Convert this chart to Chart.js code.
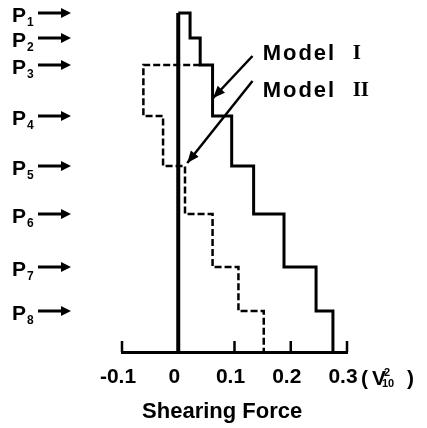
<!DOCTYPE html>
<html lang="en">
<head>
    <meta charset="UTF-8">
    <title>Shearing Force</title>
    <script src="https://cdn.jsdelivr.net/npm/chart.js"></script>
    <style>
        body { margin: 0; background: #fff; }
        #wrap { width: 427px; height: 428px; }
    </style>
</head>
<body>
    <div id="wrap"><canvas id="shearChart"></canvas></div>

    <script>
        const floors = ['1', '2', '3', '4', '5', '6', '7', '8'];
        const floorLevels = [0, 25, 52, 103, 153, 201, 254, 298];
        const baseLevel = 339;

        // storey shearing force (V10^2), from each floor down to the next one
        const model1Force = [0.021, 0.039, 0.061, 0.095, 0.134, 0.188, 0.245, 0.275];
        const model2Top = 0.039;   // dashed line starts at P3
        const model2Force = [-0.062, -0.027, 0.012, 0.061, 0.107, 0.152];

        const xTicks = [-0.1, 0, 0.1, 0.2, 0.3];

        // labels with pointer arrows: text anchor, arrow start, arrow tip (data units)
        const notes = [
            { text: 'Model', num: 'I', at: [0.150, 41], from: [0.132, 43], to: [0.062, 85] },
            { text: 'Model', num: 'II', at: [0.150, 78], from: [0.132, 68], to: [0.016, 150] }
        ];

        const FONT = '"Liberation Sans", Arial, sans-serif';

        function steps(levels, forces, startX) {
            const pts = [{ x: startX, y: levels[0] }];
            forces.forEach((f, i) => {
                const next = i + 1 < levels.length ? levels[i + 1] : baseLevel;
                pts.push({ x: f, y: levels[i] }, { x: f, y: next });
            });
            return pts;
        }

        function arrowHead(ctx, x1, y1, x2, y2, len, half) {
            const a = Math.atan2(y2 - y1, x2 - x1);
            const bx = x2 - len * Math.cos(a), by = y2 - len * Math.sin(a);
            ctx.beginPath();
            ctx.moveTo(x2, y2);
            ctx.lineTo(bx + half * Math.sin(a), by - half * Math.cos(a));
            ctx.lineTo(bx - half * Math.sin(a), by + half * Math.cos(a));
            ctx.closePath();
            ctx.fill();
        }

        const decorPlugin = {
            id: 'decor',
            afterDraw(chart) {
                const ctx = chart.ctx;
                const xs = chart.scales.x, ys = chart.scales.y;
                const bottom = chart.chartArea.bottom;
                ctx.save();
                ctx.fillStyle = '#000';
                ctx.strokeStyle = '#000';

                // upward tick marks on the force axis
                ctx.lineWidth = 2.5;
                xTicks.forEach(v => {
                    if (v === 0) return;
                    const px = xs.getPixelForValue(v);
                    ctx.beginPath();
                    ctx.moveTo(px, bottom);
                    ctx.lineTo(px, bottom - 11);
                    ctx.stroke();
                });

                // floor labels P1..P8 with arrows
                ctx.textAlign = 'left';
                ctx.textBaseline = 'alphabetic';
                floors.forEach((f, i) => {
                    const py = ys.getPixelForValue(floorLevels[i]);
                    ctx.font = 'bold 21px ' + FONT;
                    ctx.fillText('P', 12, py + 9);
                    ctx.font = 'bold 12px ' + FONT;
                    ctx.fillText(f, 27, py + 13);
                    ctx.lineWidth = 3;
                    ctx.beginPath();
                    ctx.moveTo(38, py);
                    ctx.lineTo(63, py);
                    ctx.stroke();
                    arrowHead(ctx, 38, py, 71, py, 10, 5);
                });

                // model labels with pointers
                notes.forEach(n => {
                    const tx = xs.getPixelForValue(n.at[0]), ty = ys.getPixelForValue(n.at[1]);
                    ctx.textBaseline = 'middle';
                    ctx.font = 'bold 22px ' + FONT;
                    ctx.letterSpacing = '2px';
                    ctx.fillText(n.text, tx, ty);
                    ctx.letterSpacing = '0px';
                    ctx.font = 'bold 21px "Liberation Serif", serif';
                    ctx.fillText(n.num, tx + 90, ty);
                    const x1 = xs.getPixelForValue(n.from[0]), y1 = ys.getPixelForValue(n.from[1]);
                    const x2 = xs.getPixelForValue(n.to[0]), y2 = ys.getPixelForValue(n.to[1]);
                    ctx.lineWidth = 2.5;
                    ctx.beginPath();
                    ctx.moveTo(x1, y1);
                    ctx.lineTo(x2, y2);
                    ctx.stroke();
                    arrowHead(ctx, x1, y1, x2, y2, 12, 5);
                });

                // unit after the last tick label
                const ux = xs.getPixelForValue(0.3) + 14;
                const uy = bottom + 33;
                ctx.textBaseline = 'alphabetic';
                ctx.font = 'bold 21px ' + FONT;
                ctx.fillText('(', ux, uy);
                ctx.fillText('V', ux + 11, uy);
                ctx.font = 'bold 11px ' + FONT;
                ctx.fillText('2', ux + 23, uy - 9);
                ctx.fillText('10', ux + 21, uy + 2);
                ctx.font = 'bold 21px ' + FONT;
                ctx.fillText(')', ux + 46, uy);

                // axis name
                ctx.textAlign = 'center';
                ctx.font = 'bold 22px ' + FONT;
                ctx.fillText('Shearing Force', xs.getPixelForValue(0.078), bottom + 66);
                ctx.restore();
            }
        };

        const ctx = document.getElementById('shearChart').getContext('2d');
        const shearChart = new Chart(ctx, {
            type: 'scatter',
            data: {
                datasets: [
                    {
                        label: 'zero',
                        data: [{ x: 0, y: floorLevels[0] }, { x: 0, y: baseLevel }],
                        showLine: true, borderColor: '#000', borderWidth: 4,
                        pointRadius: 0, clip: false
                    },
                    {
                        label: 'Model I',
                        data: steps(floorLevels, model1Force, 0),
                        showLine: true, borderColor: '#000', borderWidth: 3,
                        pointRadius: 0, clip: false, borderJoinStyle: 'miter'
                    },
                    {
                        label: 'Model II',
                        data: steps(floorLevels.slice(2), model2Force, model2Top),
                        showLine: true, borderColor: '#000', borderWidth: 2.5,
                        borderDash: [7, 3], pointRadius: 0, clip: false
                    }
                ]
            },
            options: {
                responsive: true,
                maintainAspectRatio: false,
                animation: false,
                layout: { padding: { left: 122, right: 80, top: 13, bottom: 0 } },
                plugins: { legend: { display: false }, tooltip: { enabled: false } },
                scales: {
                    x: {
                        type: 'linear',
                        min: -0.1, max: 0.3,
                        afterBuildTicks: s => { s.ticks = xTicks.map(v => ({ value: v })); },
                        afterFit: s => { s.height = 76; },
                        grid: { display: false, drawTicks: false },
                        border: { display: true, color: '#000', width: 3 },
                        ticks: {
                            color: '#000', padding: 13, maxRotation: 0, labelOffset: -4,
                            font: { family: FONT, size: 21, weight: 'bold' },
                            callback: v => v === 0 ? '0' : v.toFixed(1)
                        },
                        title: { display: false }
                    },
                    y: {
                        type: 'linear', display: false, reverse: true,
                        min: floorLevels[0], max: baseLevel
                    }
                }
            },
            plugins: [decorPlugin]
        });
    </script>
</body>
</html>
